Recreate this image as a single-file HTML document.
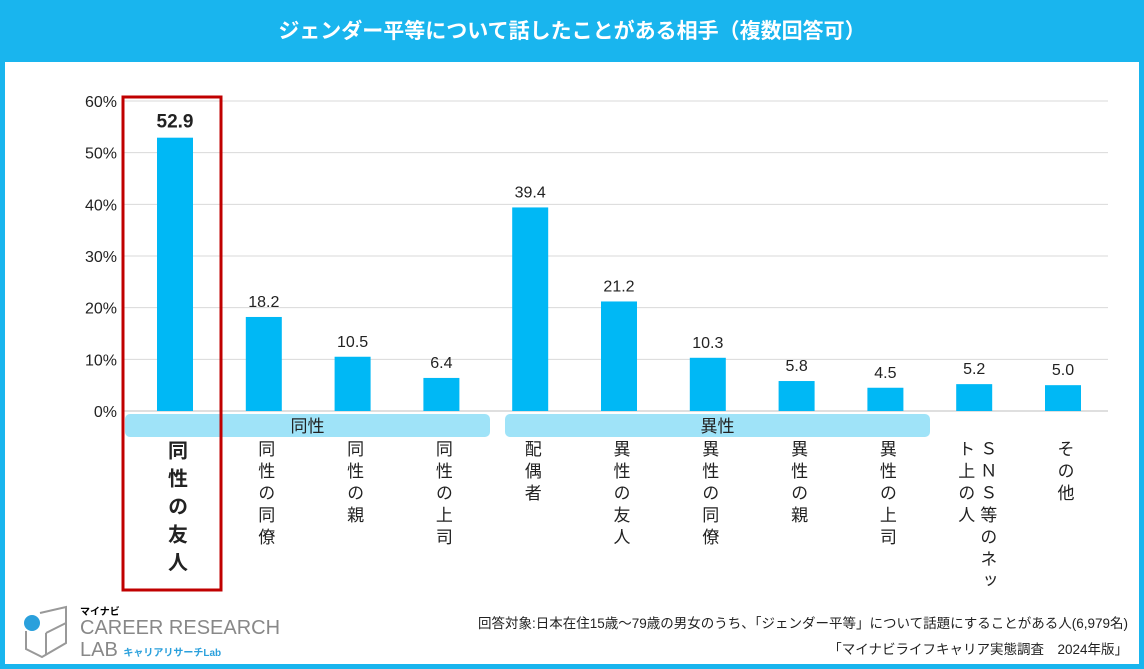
<!DOCTYPE html>
<html><head><meta charset="utf-8"><style>
body{margin:0;width:1144px;height:669px;overflow:hidden;background:#fff;font-family:"Liberation Sans","Noto Sans CJK JP",sans-serif;}
#frame{position:absolute;left:0;top:0;width:1144px;height:669px;box-sizing:border-box;border:5px solid #19b5ee;border-top:none;}
#title{position:absolute;left:0;top:0;width:1144px;height:62px;background:#19b5ee;color:#fff;font-size:21px;font-weight:bold;text-align:center;line-height:64px;}
.vl{position:absolute;writing-mode:vertical-rl;font-size:17px;color:#222;letter-spacing:5px;white-space:normal;}
.foot{position:absolute;font-size:13.5px;color:#222;white-space:nowrap;}
</style></head><body>
<div id="frame"></div>
<div id="title">ジェンダー平等について話したことがある相手（複数回答可）</div>
<svg id="chart" width="1144" height="669" style="position:absolute;left:0;top:0"></svg>
<div class="foot" style="right:16px;top:612px">回答対象:日本在住15歳～79歳の男女のうち、「ジェンダー平等」について話題にすることがある人(6,979名)</div>
<div class="foot" style="right:16px;top:638px">「マイナビライフキャリア実態調査　2024年版」</div>
<div style="position:absolute;left:18px;top:603px;width:260px;height:58px;white-space:nowrap">
<svg width="60" height="58" style="position:absolute;left:0;top:0"><circle cx="14" cy="20" r="8" fill="#2aa0dc"/><path d="M22 10 L48 4 L48 40 L24 54 L8 46 L8 28" fill="none" stroke="#999" stroke-width="2"/><path d="M28 30 L48 20 M28 30 L28 52" stroke="#999" stroke-width="2" fill="none"/></svg>
<div style="position:absolute;left:62px;top:0;font-size:10px;font-weight:bold">マイナビ</div>
<div style="position:absolute;left:62px;top:14px;font-size:20px;color:#888;line-height:22px">CAREER RESEARCH</div>
<div style="position:absolute;left:62px;top:36px;font-size:20px;color:#888;line-height:22px">LAB <span style="font-size:10px;color:#2aa0dc;font-weight:bold">キャリアリサーチLab</span></div>
</div>
<script>
const categories=["同性の友人","同性の同僚","同性の親","同性の上司","配偶者","異性の友人","異性の同僚","異性の親","異性の上司","SNS等のネット上の人","その他"];
const values=[52.9,18.2,10.5,6.4,39.4,21.2,10.3,5.8,4.5,5.2,5.0];
const valueLabels=["52.9","18.2","10.5","6.4","39.4","21.2","10.3","5.8","4.5","5.2","5.0"];
const yTicks=[0,10,20,30,40,50,60];
const svg=document.getElementById('chart');const NS='http://www.w3.org/2000/svg';
const x0=122,x1=1108,y0=411,yTop=101,yMax=60;
const y=v=>y0-(v/yMax)*(y0-yTop);
const step=88.8;
const xc=i=>175+step*i;
function mk(t,a){const e=document.createElementNS(NS,t);for(const k in a)e.setAttribute(k,a[k]);svg.appendChild(e);return e;}
yTicks.forEach(t=>{const l=mk('line',{x1:x0,x2:x1,y1:y(t),y2:y(t),stroke:t?'#d9d9d9':'#bfbfbf','stroke-width':1});


const tx=mk('text',{x:117,y:y(t)+6,'text-anchor':'end','font-size':16,fill:'#222'});tx.textContent=t+'%';

});
[[125,490,'同性'],[505,930,'異性']].forEach(g=>{const r=mk('rect',{x:g[0],y:414,width:g[1]-g[0],height:23,rx:5,fill:'#9fe3f8'});


const t=mk('text',{x:(g[0]+g[1])/2,y:432,'text-anchor':'middle','font-size':17,fill:'#222'});t.textContent=g[2];

});
values.forEach((v,i)=>{const b=mk('rect',{x:xc(i)-18,y:y(v),width:36,height:y0-y(v),fill:'#00b8f5'});


const t=mk('text',{x:xc(i),y:y(v)-10,'text-anchor':'middle','font-size':i==0?19:16,'font-weight':i==0?'bold':'normal',fill:'#222'});t.textContent=valueLabels[i];


const d=document.createElement('div');d.className='vl';


let txt=categories[i].replace('SNS','ＳＮＳ');
if(i==0){d.style.fontSize='20px';d.style.fontWeight='bold';d.style.letterSpacing='8px';}
if(i==9){d.style.height='162px';d.style.lineHeight='22px';}
d.textContent=txt;d.style.top='440px';
document.body.appendChild(d);const w=d.offsetWidth;d.style.left=(xc(i)-w/2+1)+'px';});
const rb=mk('rect',{x:123,y:97,width:98,height:493,fill:'none',stroke:'#c00000','stroke-width':3});


</script>
</body></html>
